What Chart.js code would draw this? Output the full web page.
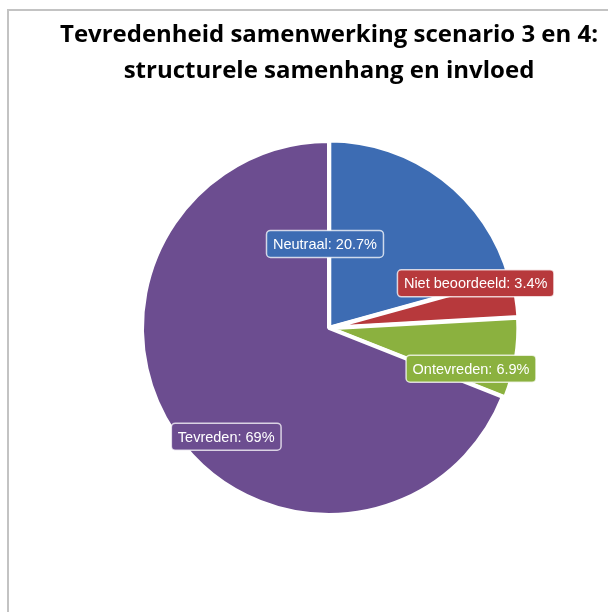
<!DOCTYPE html>
<html>
<head>
<meta charset="utf-8">
<script src="https://cdn.jsdelivr.net/npm/chart.js@4"></script>
<style>
  html, body { margin: 0; padding: 0; background: #fff; }
  #wrap { position: relative; width: 608px; height: 612px; overflow: hidden; }
  #frame { position: absolute; left: 7px; top: 9px; width: 700px; height: 700px;
           border-left: 2px solid #c3c3c3; border-top: 2px solid #c3c3c3; }
  canvas { position: absolute; left: 0; top: 0; }
</style>
</head>
<body>
<div id="wrap">
  <div id="frame"></div>
  <canvas id="pie" width="608" height="612"></canvas>
</div>
<script>
const categories = ['Neutraal', 'Niet beoordeeld', 'Ontevreden', 'Tevreden'];
const shares = [20.7, 3.4, 6.9, 69];
const sliceColors = ['#3d6cb3', '#b7393c', '#8bb13f', '#6c4d90'];

// where each data label sits: fraction of radius, angle nudge (degrees) from slice middle
const labelPlace = [
  {r: 0.45, a: -40},
  {r: 0.82, a: -7.6},
  {r: 0.79, a: 6.8},
  {r: 0.80, a: -12.4}
];

const pieLabels = {
  id: 'pieLabels',
  afterDatasetsDraw(chart) {
    const ctx = chart.ctx;
    const meta = chart.getDatasetMeta(0);
    ctx.save();
    ctx.font = '14.5px "Liberation Sans", Arial, sans-serif';
    ctx.textAlign = 'center';
    ctx.textBaseline = 'middle';
    meta.data.forEach((arc, i) => {
      const p = arc.getProps(['x', 'y', 'startAngle', 'endAngle', 'outerRadius'], true);
      const mid = (p.startAngle + p.endAngle) / 2 + labelPlace[i].a * Math.PI / 180;
      const cx = p.x + Math.cos(mid) * p.outerRadius * labelPlace[i].r;
      const cy = p.y + Math.sin(mid) * p.outerRadius * labelPlace[i].r;
      const txt = categories[i] + ': ' + shares[i] + '%';
      const w = ctx.measureText(txt).width + 13;
      const h = 27;
      ctx.beginPath();
      ctx.roundRect(cx - w / 2, cy - h / 2, w, h, 4);
      ctx.fillStyle = sliceColors[i];
      ctx.fill();
      ctx.lineWidth = 1.5;
      ctx.strokeStyle = 'rgba(255,255,255,0.75)';
      ctx.stroke();
      ctx.fillStyle = '#ffffff';
      ctx.fillText(txt, cx, cy + 1);
    });
    ctx.restore();
  }
};

new Chart(document.getElementById('pie'), {
  type: 'pie',
  data: {
    labels: categories,
    datasets: [{
      data: shares,
      backgroundColor: sliceColors,
      borderColor: '#ffffff',
      borderWidth: 4,
      offset: [2, 6, 6, 0],
      radius: 187
    }]
  },
  options: {
    responsive: false,
    animation: false,
    events: [],
    layout: {padding: {left: 60, right: 10, top: 0, bottom: 55}},
    plugins: {
      legend: {display: false},
      tooltip: {enabled: false},
      title: {
        display: true,
        text: ['Tevredenheid samenwerking scenario 3 en 4:', 'structurele samenhang en invloed'],
        color: '#000000',
        font: {family: '"Open Sans", sans-serif', size: 24, weight: 'bold', lineHeight: 1.5},
        padding: {top: 17, bottom: 10}
      }
    }
  },
  plugins: [pieLabels]
});
</script>
</body>
</html>
